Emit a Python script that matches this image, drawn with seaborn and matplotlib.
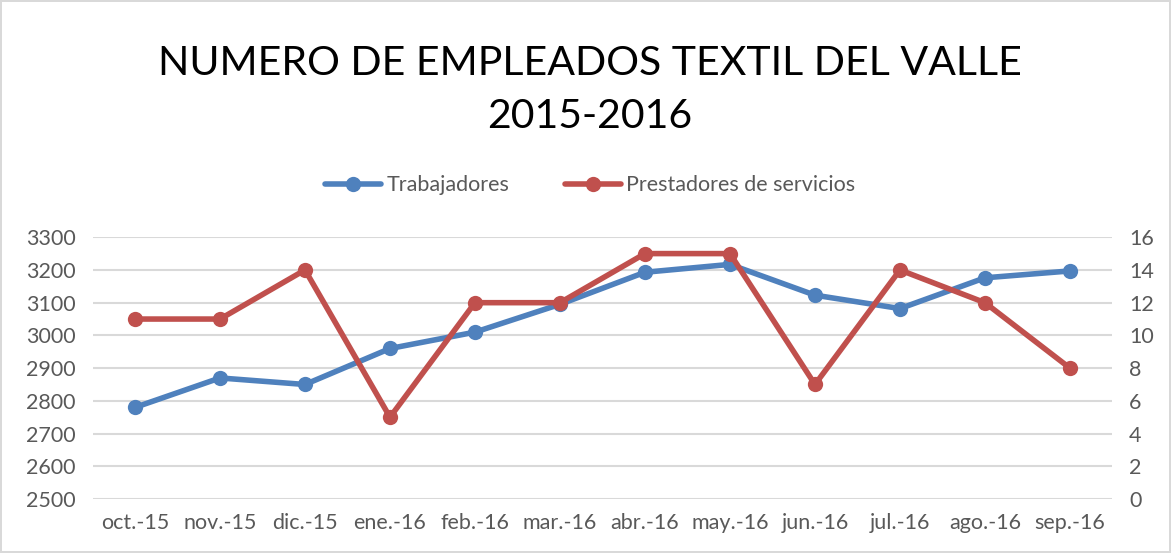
import pandas as pd
import matplotlib
matplotlib.use("Agg")
import matplotlib.pyplot as plt
import seaborn as sns

# data
meses = ["oct.-15", "nov.-15", "dic.-15", "ene.-16", "feb.-16", "mar.-16",
         "abr.-16", "may.-16", "jun.-16", "jul.-16", "ago.-16", "sep.-16"]
trabajadores = [2780, 2870, 2850, 2960, 3010, 3095, 3193, 3217, 3123, 3082, 3176, 3197]
prestadores = [11, 11, 14, 5, 12, 12, 15, 15, 7, 14, 12, 8]

df = pd.DataFrame({"mes": meses, "Trabajadores": trabajadores,
                   "Prestadores de servicios": prestadores})
df["x"] = range(len(meses))

sns.set_style("white")
plt.rcParams["font.family"] = ["Lato", "DejaVu Sans"]

blue = "#4f81bd"
red = "#c0504d"
grid_col = "#d9d9d9"
text_col = "#595959"

fig = plt.figure(figsize=(11.71, 5.53), dpi=100)
fig.patch.set_edgecolor("#d9d9d9")
fig.patch.set_linewidth(1.5)
ax = fig.add_axes([0.079, 0.0976, 0.871, 0.4734])
ax2 = ax.twinx()

# gridlines (follow left axis, which lines up with right)
ax.set_ylim(2500, 3300)
ax.set_yticks(range(2500, 3301, 100))
ax2.set_ylim(0, 16)
ax2.set_yticks(range(0, 17, 2))
ax.grid(axis="y", color=grid_col, linewidth=1.5)
ax.set_axisbelow(True)

sns.lineplot(data=df, x="x", y="Trabajadores", ax=ax, color=blue, linewidth=4,
             marker="o", markersize=11, markeredgewidth=0, label="Trabajadores",
             legend=False)
sns.lineplot(data=df, x="x", y="Prestadores de servicios", ax=ax2, color=red,
             linewidth=4, marker="o", markersize=11, markeredgewidth=0,
             label="Prestadores de servicios", legend=False)

ax.set_xlim(-0.5, len(meses) - 0.5)
ax.set_xticks(df["x"])
ax.set_xticklabels(meses)
ax.set_xlabel("")
ax.set_ylabel("")
ax2.set_ylabel("")

for a in (ax, ax2):
    for s in a.spines.values():
        s.set_visible(False)
    a.tick_params(length=0, labelsize=15.5, colors=text_col)
ax.tick_params(axis="y", pad=12)
ax2.tick_params(axis="y", pad=12)
ax.tick_params(axis="x", pad=10)

fig.text(0.504, 0.837, "NUMERO DE EMPLEADOS TEXTIL DEL VALLE\n2015-2016",
         ha="center", va="center", fontsize=29.5, color="#000000", linespacing=1.55)

h1, l1 = ax.get_legend_handles_labels()
h2, l2 = ax2.get_legend_handles_labels()
fig.legend(h1 + h2, l1 + l2, loc="center", bbox_to_anchor=(0.504, 0.665), ncol=2,
           frameon=False, fontsize=15.5, labelcolor=text_col, handlelength=2.6,
           columnspacing=2.6, handletextpad=0.25)

fig.savefig("out.png", dpi=100)
